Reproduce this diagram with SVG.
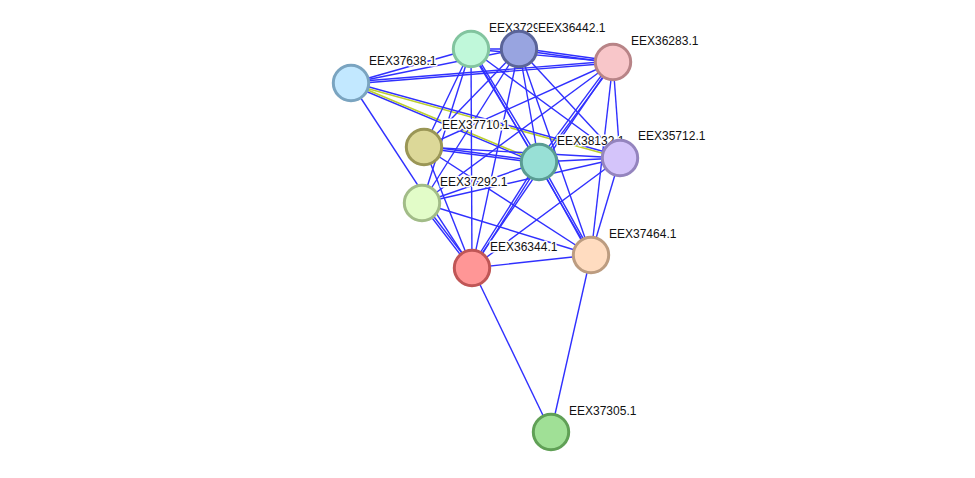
<svg xmlns="http://www.w3.org/2000/svg" width="975" height="478" viewBox="0 0 975 478">
<style>
.e{stroke:#3030ff;stroke-width:1.4;fill:none}
.y{stroke:#bccf2e;stroke-width:1.6;fill:none}
.n circle{stroke-width:3}
.n text{font-family:"Liberation Sans",Arial,sans-serif;font-size:12px;fill:#111;stroke:#fff;stroke-width:3;stroke-linejoin:round;paint-order:stroke}
</style>
<rect width="975" height="478" fill="#fff"/>
<g id="connectors">
<line class="e" x1="351" y1="83" x2="471" y2="49"/>
<line class="e" x1="351" y1="83" x2="519" y2="49"/>
<line class="e" x1="351" y1="82" x2="613" y2="61"/>
<line class="e" x1="351" y1="84" x2="613" y2="63"/>
<line class="e" x1="351" y1="85" x2="539" y2="164"/>
<line class="y" x1="351" y1="83" x2="539" y2="162"/>
<line class="e" x1="351" y1="82" x2="620" y2="156"/>
<line class="y" x1="351" y1="84" x2="620" y2="158"/>
<line class="e" x1="351" y1="83" x2="472" y2="268"/>
<line class="e" x1="471" y1="49" x2="519" y2="49"/>
<line class="e" x1="471" y1="49" x2="613" y2="62"/>
<line class="e" x1="471" y1="49" x2="424" y2="147"/>
<line class="e" x1="469.9" y1="49.7" x2="537.9" y2="162.7"/>
<line class="e" x1="472.1" y1="48.3" x2="540.1" y2="161.3"/>
<line class="e" x1="471" y1="49" x2="620" y2="158"/>
<line class="e" x1="471" y1="49" x2="422" y2="203"/>
<line class="e" x1="471" y1="49" x2="472" y2="268"/>
<line class="e" x1="471" y1="49" x2="591" y2="255"/>
<line class="e" x1="519" y1="48" x2="613" y2="61"/>
<line class="e" x1="519" y1="50" x2="613" y2="63"/>
<line class="e" x1="519" y1="49" x2="424" y2="147"/>
<line class="e" x1="519" y1="49" x2="539" y2="162"/>
<line class="e" x1="519" y1="49" x2="620" y2="158"/>
<line class="e" x1="519" y1="49" x2="422" y2="203"/>
<line class="e" x1="519" y1="49" x2="472" y2="268"/>
<line class="e" x1="519" y1="49" x2="591" y2="255"/>
<line class="e" x1="613" y1="62" x2="424" y2="147"/>
<line class="e" x1="612" y1="61.2" x2="538" y2="161.2"/>
<line class="e" x1="614" y1="62.8" x2="540" y2="162.8"/>
<line class="e" x1="613" y1="62" x2="422" y2="203"/>
<line class="e" x1="613" y1="62" x2="472" y2="268"/>
<line class="e" x1="613" y1="62" x2="620" y2="158"/>
<line class="e" x1="613" y1="62" x2="591" y2="255"/>
<line class="e" x1="424" y1="146" x2="539" y2="161"/>
<line class="e" x1="424" y1="148" x2="539" y2="163"/>
<line class="e" x1="424" y1="147" x2="620" y2="158"/>
<line class="e" x1="424" y1="147" x2="472" y2="268"/>
<line class="e" x1="424" y1="147" x2="591" y2="255"/>
<line class="e" x1="539" y1="162" x2="620" y2="158"/>
<line class="e" x1="539" y1="162" x2="422" y2="203"/>
<line class="e" x1="538" y1="161.4" x2="471" y2="267.4"/>
<line class="e" x1="540" y1="162.6" x2="473" y2="268.6"/>
<line class="e" x1="538" y1="162.6" x2="590" y2="255.6"/>
<line class="e" x1="540" y1="161.4" x2="592" y2="254.4"/>
<line class="e" x1="620" y1="158" x2="422" y2="203"/>
<line class="e" x1="620" y1="158" x2="472" y2="268"/>
<line class="e" x1="620" y1="158" x2="591" y2="255"/>
<line class="e" x1="421" y1="203.5" x2="471" y2="268.5"/>
<line class="e" x1="423" y1="202.5" x2="473" y2="267.5"/>
<line class="e" x1="422" y1="203" x2="591" y2="255"/>
<line class="e" x1="472" y1="268" x2="591" y2="255"/>
<line class="e" x1="472" y1="268" x2="551" y2="432"/>
<line class="e" x1="591" y1="255" x2="551" y2="432"/>
</g>
<g id="EEX37638.1" class="n"><circle cx="351" cy="83" r="17.7" fill="#c2e8ff" stroke="#7aa4c0"/><text x="369" y="65">EEX37638.1</text></g>
<g id="EEX37299.1" class="n"><circle cx="471" cy="49" r="17.7" fill="#c0f8da" stroke="#82c49f"/><text x="489" y="32">EEX37299.1</text></g>
<g id="EEX36442.1" class="n"><circle cx="519" cy="49" r="17.7" fill="#98a4e0" stroke="#5a6499"/><text x="538" y="32">EEX36442.1</text></g>
<g id="EEX36283.1" class="n"><circle cx="613" cy="62" r="17.7" fill="#f8c6c9" stroke="#b88487"/><text x="631" y="45">EEX36283.1</text></g>
<g id="EEX37710.1" class="n"><circle cx="424" cy="147" r="17.7" fill="#dcd898" stroke="#9a9656"/><text x="442" y="129">EEX37710.1</text></g>
<g id="EEX38132.1" class="n"><circle cx="539" cy="162" r="17.7" fill="#98e0d6" stroke="#5a9c93"/><text x="557" y="145">EEX38132.1</text></g>
<g id="EEX35712.1" class="n"><circle cx="620" cy="158" r="17.7" fill="#d4c4fa" stroke="#9484be"/><text x="638" y="140">EEX35712.1</text></g>
<g id="EEX37292.1" class="n"><circle cx="422" cy="203" r="17.7" fill="#e2fcc8" stroke="#a2bc88"/><text x="440" y="186">EEX37292.1</text></g>
<g id="EEX36344.1" class="n"><circle cx="472" cy="268" r="17.7" fill="#ff9696" stroke="#c05656"/><text x="490" y="251">EEX36344.1</text></g>
<g id="EEX37464.1" class="n"><circle cx="591" cy="255" r="17.7" fill="#ffdcc0" stroke="#bc9c80"/><text x="609" y="238">EEX37464.1</text></g>
<g id="EEX37305.1" class="n"><circle cx="551" cy="432" r="17.7" fill="#a0e096" stroke="#60a056"/><text x="569" y="415">EEX37305.1</text></g>
</svg>
